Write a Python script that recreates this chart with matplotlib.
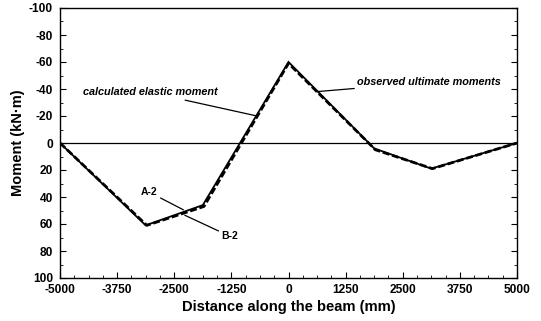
import matplotlib
matplotlib.use("Agg")
import matplotlib.pyplot as plt
from matplotlib.ticker import AutoMinorLocator

plt.rcParams['font.family'] = ['Liberation Sans', 'DejaVu Sans']

# data
x_calc = [-5000, -3125, -1875, 0, 1875, 3125, 5000]
m_calc = [0, 61, 46, -60, 4, 19, 0]
x_obs = [-5000, -3100, -1850, 0, 1900, 3150, 5000]
m_obs = [0, 61, 47, -59, 5, 19, 0]

x_ticks = [-5000, -3750, -2500, -1250, 0, 1250, 2500, 3750, 5000]
x_labels = ['-5000', '-3750', '-2500', '-1250', '0', '1250', '2500', '3750', '5000']
y_ticks = [-100, -80, -60, -40, -20, 0, 20, 40, 60, 80, 100]
y_labels = ['-100', '-80', '-60', '-40', '-20', '0', '20', '40', '60', '80', '100']

fig = plt.figure(figsize=(5.41, 3.21), dpi=100)
ax = fig.add_axes([60/541, 1-278/321, (517-60)/541, (278-8)/321])

ax.axhline(0, color='black', lw=0.9)
ax.plot(x_calc, m_calc, color='black', lw=1.3, solid_joinstyle='miter')
ax.plot(x_obs, m_obs, color='black', lw=2.0, ls=(0, (2.5, 1)))

ax.set_xlim(-5000, 5000)
ax.set_ylim(100, -100)
ax.set_xticks(x_ticks)
ax.set_xticklabels(x_labels, fontweight='bold', fontsize=8.6)
ax.set_yticks(y_ticks)
ax.set_yticklabels(y_labels, fontweight='bold', fontsize=8.6)
ax.xaxis.set_minor_locator(AutoMinorLocator(4))
ax.yaxis.set_minor_locator(AutoMinorLocator(2))
ax.tick_params(which='both', direction='in', top=False, right=True)
ax.tick_params(axis='x', which='major', pad=4.5)
ax.tick_params(axis='y', which='major', pad=5)
ax.tick_params(which='major', length=4, width=0.8)
ax.tick_params(which='minor', length=2, width=0.6)
for s in ax.spines.values():
    s.set_linewidth(1.0)

ax.set_xlabel('Distance along the beam (mm)', fontweight='bold', fontsize=10.6, labelpad=3)
ax.set_ylabel('Moment (kN·m)', fontweight='bold', fontsize=10.5, labelpad=3)

arrow = dict(arrowstyle='-', color='black', lw=0.9, shrinkA=0, shrinkB=0)
ax.annotate('calculated elastic moment', xy=(-690, -20), xytext=(-1560, -37.5),
            ha='right', va='center', fontsize=7.8, fontstyle='italic', fontweight='bold',
            arrowprops=arrow)
ax.annotate('observed ultimate moments', xy=(600, -38), xytext=(1500, -45),
            ha='left', va='center', fontsize=7.8, fontstyle='italic', fontweight='bold',
            arrowprops=arrow)
ax.annotate('A-2', xy=(-2300, 49.5), xytext=(-2860, 36.5),
            ha='right', va='center', fontsize=7.5, fontweight='bold',
            arrowprops=arrow)
ax.annotate('B-2', xy=(-2270, 53.5), xytext=(-1470, 69),
            ha='left', va='center', fontsize=7.5, fontweight='bold',
            arrowprops=arrow)

fig.savefig('out.png', dpi=100)
